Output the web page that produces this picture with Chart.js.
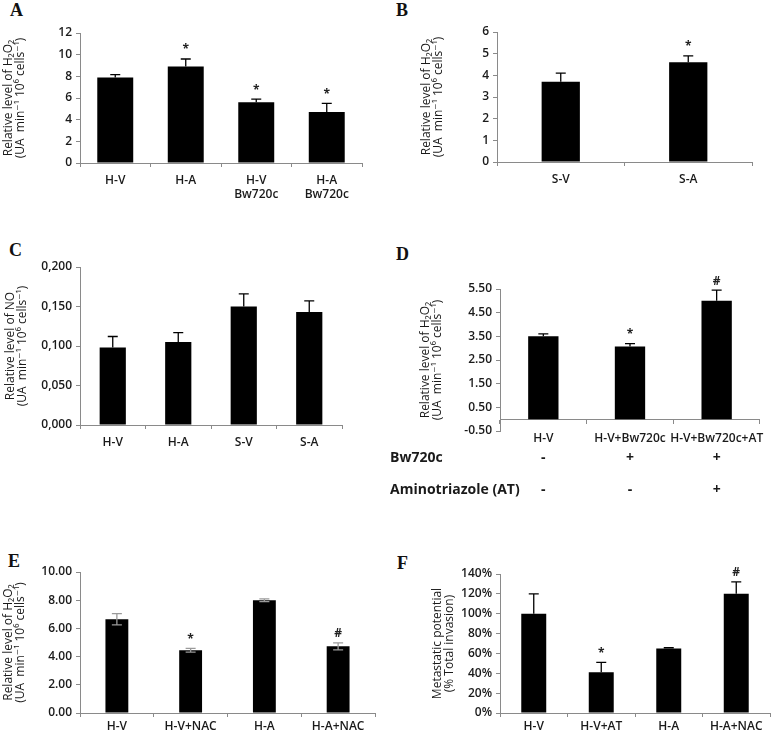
<!DOCTYPE html>
<html>
<head>
<meta charset="utf-8">
<script src="https://cdn.jsdelivr.net/npm/chart.js@4.4.1/dist/chart.umd.min.js"></script>
<style>
  body { margin: 0; background: #fff; width: 777px; height: 733px; position: relative; overflow: hidden; }
  canvas { position: absolute; }
  .tag { position: absolute; font: bold 18px "Liberation Serif", serif; color: #111; }
</style>
</head>
<body>
<div class="tag" style="left:10px;top:0px">A</div>
<div class="tag" style="left:396px;top:0px">B</div>
<div class="tag" style="left:9px;top:240px">C</div>
<div class="tag" style="left:396px;top:244px">D</div>
<div class="tag" style="left:8px;top:551px">E</div>
<div class="tag" style="left:397px;top:553px">F</div>

<canvas id="cA"></canvas>
<canvas id="cB"></canvas>
<canvas id="cC"></canvas>
<canvas id="cD"></canvas>
<canvas id="cE"></canvas>
<canvas id="cF"></canvas>

<script>
// panel A
const catA = [['H-V'], ['H-A'], ['H-V', 'Bw720c'], ['H-A', 'Bw720c']];
const valA = [7.9, 8.9, 5.6, 4.7];
const errA = [0.25, 0.7, 0.3, 0.8];
const sigA = ['', '*', '*', '*'];

// panel B
const catB = ['S-V', 'S-A'];
const valB = [3.7, 4.6];
const errB = [0.4, 0.3];
const sigB = ['', '*'];

// panel C
const catC = ['H-V', 'H-A', 'S-V', 'S-A'];
const valC = [0.098, 0.105, 0.150, 0.143];
const errC = [0.014, 0.012, 0.016, 0.014];
const sigC = ['', '', '', ''];

// panel D
const catD = ['H-V', 'H-V+Bw720c', 'H-V+Bw720c+AT'];
const valD = [3.5, 3.07, 5.0];
const errD = [0.1, 0.12, 0.45];
const sigD = ['', '*', '#'];
const bwSigns = ['-', '+', '+'];
const atSigns = ['-', '-', '+'];

// panel E
const catE = ['H-V', 'H-V+NAC', 'H-A', 'H-A+NAC'];
const valE = [6.65, 4.45, 8.0, 4.73];
const errE = [0.4, 0.13, 0.1, 0.25];
const sigE = ['', '*', '', '#'];

// panel F
const catF = ['H-V', 'H-V+AT', 'H-A', 'H-A+NAC'];
const valF = [100, 41, 65, 120];
const errF = [20, 10, 0.7, 12];
const sigF = ['', '*', '', '#'];

const h2o2Title = ['Relative level of H\u2082O\u2082', '(UA  min\u207B\u00B9 10\u2076 cells\u207B\u00B9)'];
const noTitle = ['Relative level of NO', '(UA  min\u207B\u00B9 10\u2076 cells\u207B\u00B9)'];
const fTitle = ['Metastatic potential', '(% Total invasion)'];

const FONT = '"Open Sans", "DejaVu Sans", sans-serif';
const AXIS = '#8a8a8a';

const errorBars = {
  id: 'errorBars',
  afterDatasetsDraw(chart, args, opts) {
    const meta = chart.getDatasetMeta(0);
    const ys = chart.scales.y;
    const vals = chart.data.datasets[0].data;
    const ctx = chart.ctx;
    ctx.save();
    ctx.strokeStyle = opts.color;
    ctx.lineWidth = 1.3;
    meta.data.forEach((bar, i) => {
      const v = vals[i], e = opts.err[i];
      const yTop = ys.getPixelForValue(v + e);
      const yLow = opts.both ? ys.getPixelForValue(v - e) : bar.y;
      ctx.beginPath();
      ctx.moveTo(bar.x, yLow); ctx.lineTo(bar.x, yTop);
      ctx.moveTo(bar.x - 5, yTop); ctx.lineTo(bar.x + 5, yTop);
      if (opts.both) { ctx.moveTo(bar.x - 5, yLow); ctx.lineTo(bar.x + 5, yLow); }
      ctx.stroke();
      if (opts.marks[i]) {
        ctx.fillStyle = '#222';
        ctx.font = 'bold 12px ' + FONT;
        ctx.textAlign = 'center';
        ctx.textBaseline = 'bottom';
        ctx.fillText(opts.marks[i], bar.x, yTop - 3);
      }
    });
    ctx.restore();
  }
};

// treatment rows under panel D
const signRows = {
  id: 'signRows',
  afterDraw(chart, args, opts) {
    if (!opts.rows) return;
    const xs = chart.scales.x;
    const ctx = chart.ctx;
    ctx.save();
    ctx.fillStyle = '#1a1a1a';
    ctx.font = 'bold 14px ' + FONT;
    ctx.textBaseline = 'middle';
    opts.rows.forEach(r => {
      ctx.textAlign = 'left';
      ctx.fillText(r.label, 0, r.y);
      ctx.textAlign = 'center';
      r.signs.forEach((s, i) => ctx.fillText(s, xs.getPixelForValue(i), r.y));
    });
    ctx.restore();
  }
};

function panel(id, box, labels, values, err, marks, opt) {
  const cv = document.getElementById(id);
  cv.width = box.w; cv.height = box.h;
  cv.style.left = box.left + 'px';
  cv.style.top = box.top + 'px';
  return new Chart(cv, {
    type: 'bar',
    data: {
      labels: labels,
      datasets: [{
        data: values,
        backgroundColor: '#000',
        borderWidth: 0,
        barPercentage: opt.bar,
        categoryPercentage: 1
      }]
    },
    plugins: [errorBars, signRows],
    options: {
      responsive: false,
      animation: false,
      layout: { padding: { top: box.padTop, right: 5, bottom: box.padBottom || 0 } },
      plugins: {
        legend: { display: false },
        tooltip: { enabled: false },
        errorBars: { err: err, marks: marks, color: opt.errColor || '#000', both: !!opt.both },
        signRows: { rows: opt.rows }
      },
      scales: {
        x: {
          position: opt.xPos || 'bottom',
          grid: { drawOnChartArea: false, tickLength: 4, color: AXIS, offset: true },
          border: { color: AXIS },
          ticks: { color: '#1a1a1a', padding: opt.xPad || 6, font: { family: FONT, size: 12, weight: '600' }, maxRotation: 0, autoSkip: false },
          afterFit: s => { s.height = box.xh; }
        },
        y: {
          min: opt.min, max: opt.max,
          grid: { drawOnChartArea: false, tickLength: 4, color: AXIS },
          border: { color: AXIS },
          ticks: { stepSize: opt.step, color: '#1a1a1a', padding: 4, font: { family: FONT, size: 12, weight: '600' }, callback: opt.fmt },
          title: { display: true, text: opt.title, color: '#1a1a1a', padding: { top: opt.tPad, bottom: 0 }, font: { family: FONT, size: 12, lineHeight: 1.05 } },
          afterFit: s => { s.width = box.yw; }
        }
      }
    }
  });
}

panel('cA', { left: 0, top: 20, w: 367, h: 188, padTop: 13, yw: 80, xh: 45 }, catA, valA, errA, sigA,
  { bar: 0.51, min: 0, max: 12, step: 2, title: h2o2Title, tPad: 2, fmt: v => v });

panel('cB', { left: 390, top: 20, w: 367, h: 187, padTop: 12, yw: 107, xh: 45 }, catB, valB, errB, sigB,
  { bar: 0.3, min: 0, max: 6, step: 1, title: h2o2Title, tPad: 30, fmt: v => v });

panel('cC', { left: 0, top: 255, w: 347, h: 200, padTop: 12, yw: 80, xh: 30 }, catC, valC, errC, sigC,
  { bar: 0.4, min: 0, max: 0.2, step: 0.05, title: noTitle, tPad: 4, fmt: v => v.toFixed(3).replace('.', ',') });

panel('cD', { left: 390, top: 275, w: 382, h: 225, padTop: 14, padBottom: 69, yw: 110, xh: 0 }, catD, valD, errD, sigD,
  { bar: 0.35, min: -0.5, max: 5.5, step: 1, title: h2o2Title, tPad: 29, xPos: { y: 0 }, xPad: 8,
    fmt: v => v.toFixed(2),
    rows: [{ label: 'Bw720c', signs: bwSigns, y: 183 }, { label: 'Aminotriazole (AT)', signs: atSigns, y: 215 }] });

panel('cE', { left: 0, top: 560, w: 380, h: 180, padTop: 12, padBottom: 7, yw: 80, xh: 20 }, catE, valE, errE, sigE,
  { bar: 0.31, min: 0, max: 10, step: 2, title: h2o2Title, tPad: 2, xPad: 2, fmt: v => v.toFixed(2), errColor: '#9a9a9a', both: true });

panel('cF', { left: 390, top: 560, w: 385, h: 180, padTop: 14, padBottom: 7, yw: 110, xh: 20 }, catF, valF, errF, sigF,
  { bar: 0.37, min: 0, max: 140, step: 20, title: fTitle, tPad: 41, xPad: 2, fmt: v => v + '%' });
</script>
</body>
</html>
